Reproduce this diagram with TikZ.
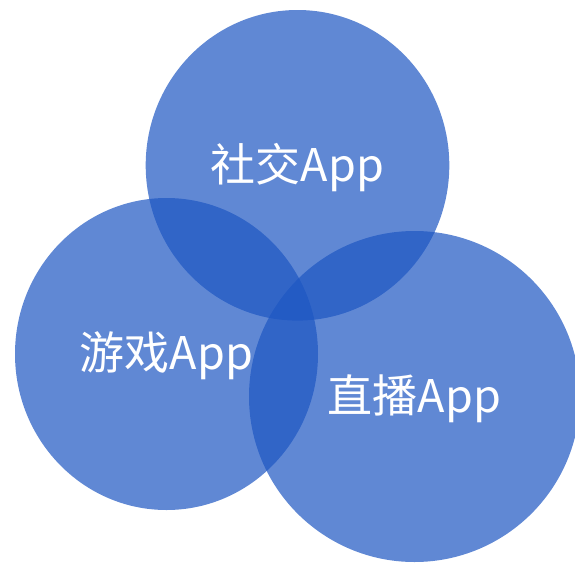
\documentclass[tikz,border=0pt]{standalone}
\usepackage{fontspec}
\usetikzlibrary{shapes.geometric}
\newfontfamily\cjk{Noto Sans CJK SC}
\definecolor{vblue}{RGB}{29,86,194}
\begin{document}
\begin{tikzpicture}[x=1pt,y=-1pt,
  circ/.style={ellipse,fill=vblue,fill opacity=0.7,draw=none,inner sep=0pt},
  lbl/.style={text=white,font=\cjk\fontsize{45}{52}\selectfont,inner sep=0pt}]
\useasboundingbox (0,0) rectangle (575,562);
\node[circ,minimum width=303.6pt,minimum height=310.6pt] (top) at (297.5,165.3) {};
\node[circ,minimum width=303pt,minimum height=312pt] (left) at (166.5,354) {};
\node[circ,minimum width=331pt,minimum height=331pt] (right) at (414.5,396.5) {};
\node[lbl] (t1) at (top.center) [yshift=-2pt] {社交App};
\node[lbl] (t2) at (left.center) [yshift=-2pt] {游戏App};
\node[lbl] (t3) at (right.center) [yshift=-2pt] {直播App};
\end{tikzpicture}
\end{document}
